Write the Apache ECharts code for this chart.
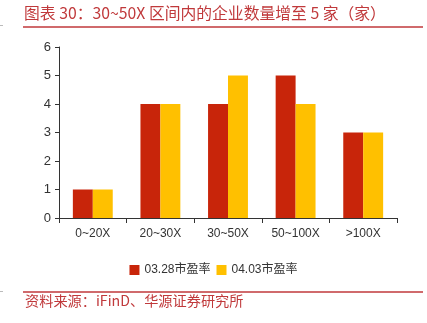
<!DOCTYPE html>
<html>
<head>
<meta charset="utf-8">
<script src="https://cdn.jsdelivr.net/npm/echarts@6/dist/echarts.min.js"></script>
<style>
html,body{margin:0;padding:0;background:#fff;}
#chart{width:427px;height:323px;}
</style>
</head>
<body>
<div id="chart"></div>
<script>
// Company counts per P/E band on two dates
const categories = ['0~20X', '20~30X', '30~50X', '50~100X', '>100X'];
const pe0328 = [1, 4, 4, 5, 3];
const pe0403 = [1, 4, 5, 4, 3];
const seriesNames = ['03.28市盈率', '04.03市盈率'];
const yTicks = [0, 1, 2, 3, 4, 5, 6];

const titleText = '图表 30：30~50X 区间内的企业数量增至 5 家（家）';
const sourceText = '资料来源：iFinD、华源证券研究所';
const accent = '#C0393B';

const chart = echarts.init(document.getElementById('chart'), null, {renderer: 'canvas'});
chart.setOption({
  animation: false,
  backgroundColor: '#fff',
  textStyle: {fontFamily: 'Liberation Sans, Arial, sans-serif'},
  graphic: [
    {type: 'text', left: 24, top: 5, style: {text: titleText, fill: accent, font: '15.8px "Noto Sans CJK SC", sans-serif'}},
    {type: 'line', shape: {x1: 23, y1: 27, x2: 423, y2: 27}, style: {stroke: accent, lineWidth: 1.5}},
    {type: 'line', shape: {x1: 0, y1: 25.5, x2: 3, y2: 25.5}, style: {stroke: '#bbb', lineWidth: 1}},
    {type: 'line', shape: {x1: 23, y1: 292, x2: 423, y2: 292}, style: {stroke: accent, lineWidth: 1.5}},
    {type: 'line', shape: {x1: 0, y1: 291.5, x2: 3, y2: 291.5}, style: {stroke: '#bbb', lineWidth: 1}},
    {type: 'text', left: 25, top: 294, style: {text: sourceText, fill: accent, font: '14.2px "Noto Sans CJK SC", sans-serif'}}
  ],
  legend: {
    data: seriesNames,
    left: 'center',
    top: 259,
    itemWidth: 10,
    itemHeight: 10,
    itemGap: 6,
    icon: 'rect',
    textStyle: {fontSize: 12, color: '#333', fontFamily: 'Liberation Sans, "Noto Sans CJK SC", sans-serif'}
  },
  grid: {left: 59, right: 30, top: 47, bottom: 105, containLabel: false},
  xAxis: {
    type: 'category',
    data: categories,
    axisLine: {lineStyle: {color: '#333', width: 1}},
    axisTick: {show: true, alignWithLabel: false, length: 5, lineStyle: {color: '#333'}},
    axisLabel: {color: '#333', fontSize: 12, margin: 10}
  },
  yAxis: {
    type: 'value',
    min: yTicks[0],
    max: yTicks[yTicks.length - 1],
    interval: 1,
    splitLine: {show: false},
    axisLine: {show: true, lineStyle: {color: '#333', width: 1}},
    axisTick: {show: true, length: 4, lineStyle: {color: '#333'}},
    axisLabel: {color: '#333', fontSize: 13, margin: 8}
  },
  series: [
    {name: seriesNames[0], type: 'bar', data: pe0328, barGap: '0%', barCategoryGap: '41%', itemStyle: {color: '#C8250A'}},
    {name: seriesNames[1], type: 'bar', data: pe0403, itemStyle: {color: '#FFC000'}}
  ]
});
</script>
</body>
</html>
